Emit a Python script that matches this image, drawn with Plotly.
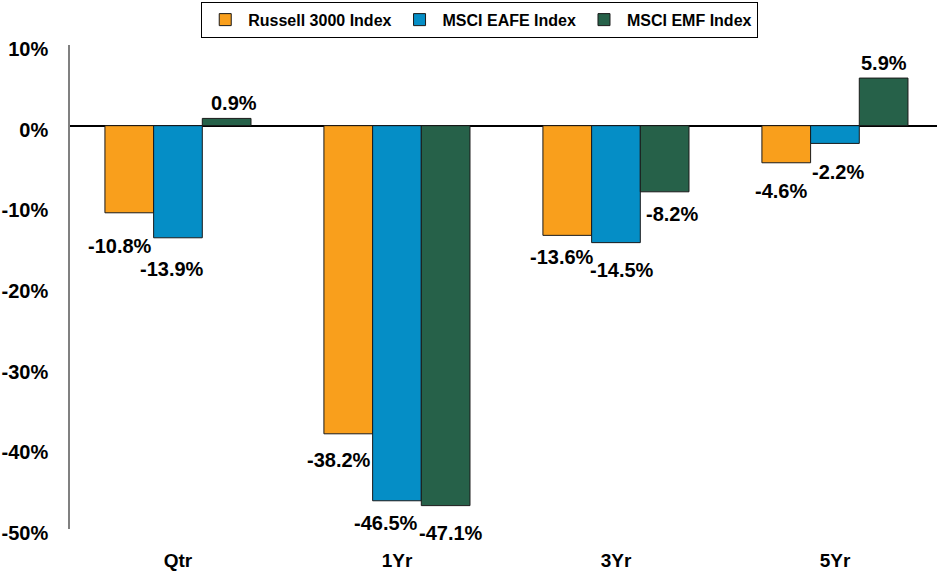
import plotly.graph_objects as go

categories = ["Qtr", "1Yr", "3Yr", "5Yr"]
series_names = ["Russell 3000 Index", "MSCI EAFE Index", "MSCI EMF Index"]
russell_3000 = [-10.8, -38.2, -13.6, -4.6]
msci_eafe = [-13.9, -46.5, -14.5, -2.2]
msci_emf = [0.9, -47.1, -8.2, 5.9]
y_tick_values = [-50, -40, -30, -20, -10, 0, 10]
y_tick_labels = ["-50%", "-40%", "-30%", "-20%", "-10%", "0%", "10%"]

series_values = [russell_3000, msci_eafe, msci_emf]
colors = ["#F99F1C", "#058EC6", "#266149"]

# label nudges (style only), px
label_dx = [[-9, -9, -5, -5], [-6, -11, 6, 3], [7, 5, 7, 0]]
label_dy = [[-33, -26, -22, -28], [-31, -22, -27, -29], [15, -27, -22, 15]]
bar_px = 48.7

FONT = "Liberation Sans, Arial, sans-serif"

fig = go.Figure()
for name, vals, col in zip(series_names, series_values, colors):
    fig.add_trace(go.Bar(
        x=categories, y=vals, name=name,
        marker=dict(color=col, line=dict(color="#1a1a1a", width=1)),
    ))

annotations = []
for si, vals in enumerate(series_values):
    for ci, v in enumerate(vals):
        annotations.append(dict(
            x=categories[ci], y=v, xref="x", yref="y",
            text=f"{v:.1f}%", showarrow=False,
            xshift=(si - 1) * bar_px + label_dx[si][ci],
            yshift=label_dy[si][ci],
            xanchor="center", yanchor="middle",
            font=dict(family=FONT, size=20, color="#000000", weight="bold"),
        ))

fig.update_layout(
    width=937, height=573,
    margin=dict(l=70, r=0, t=45, b=44, autoexpand=False),
    paper_bgcolor="white", plot_bgcolor="white",
    barmode="group", bargap=0.333, bargroupgap=0,
    font=dict(family=FONT, color="#000000"),
    showlegend=True,
    legend=dict(
        orientation="h", xref="container", yref="container",
        x=0.512, xanchor="center", y=0.997, yanchor="top",
        bordercolor="#000000", borderwidth=1, bgcolor="white",
        itemwidth=36,
        font=dict(family=FONT, size=16, color="#000000", weight="bold"),
    ),
    annotations=annotations,
)
fig.update_xaxes(
    range=[-0.493, 3.466], showline=False, showgrid=False, zeroline=False,
    ticks="", ticklabelstandoff=18,
    tickfont=dict(family=FONT, size=19, color="#000000", weight="bold"),
)
fig.update_yaxes(
    range=[-50, 10], tickvals=y_tick_values, ticktext=y_tick_labels,
    showgrid=False, showline=True, linecolor="#808080", linewidth=1.5,
    zeroline=True, zerolinecolor="#000000", zerolinewidth=2,
    ticks="", ticklabelstandoff=16, ticklabelshift=4,
    tickfont=dict(family=FONT, size=20, color="#000000", weight="bold"),
)

fig.write_html(
    "out.html",
    config={"displayModeBar": False},
    post_script="document.body.style.margin='0';document.body.style.overflow='hidden';",
)
